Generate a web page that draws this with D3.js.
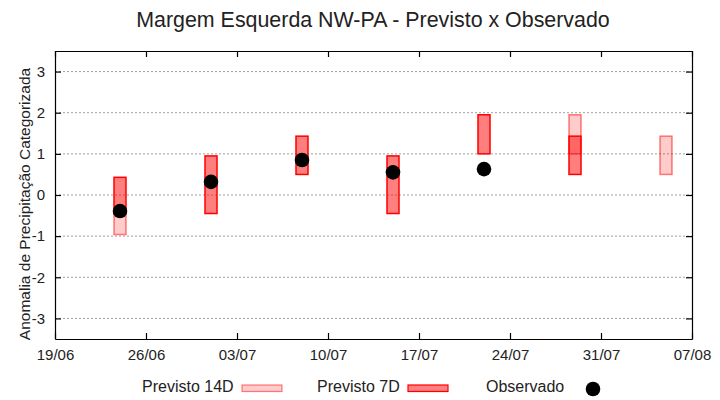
<!DOCTYPE html>
<html>
<head>
<meta charset="utf-8">
<script src="https://cdn.jsdelivr.net/npm/d3@7"></script>
<style>
  body { margin: 0; background: #fff; }
  text { font-family: "Liberation Sans", Arial, sans-serif; fill: #222; }
</style>
</head>
<body>
<script>
// dados
var datas = ["24/06", "01/07", "08/07", "15/07", "22/07", "29/07", "05/08"];
var prev7Min = [-0.45, -0.45, 0.5, -0.45, 1.0, 0.5, null];
var prev7Max = [0.43, 0.95, 1.43, 0.95, 1.95, 1.43, null];
var prev14Min = [-0.96, null, null, null, null, 1.0, 0.5];
var prev14Max = [-0.45, null, null, null, null, 1.95, 1.43];
var observado = [-0.39, 0.32, 0.85, 0.55, 0.63, null, null];
var yTicks = [-3, -2, -1, 0, 1, 2, 3];
var xTicks = ["19/06", "26/06", "03/07", "10/07", "17/07", "24/07", "31/07", "07/08"];

var width = 720, height = 400;
var margin = {top: 51, right: 28, bottom: 61, left: 55};

var parse = function(s) {
  var p = s.split("/");
  return new Date(Date.UTC(2021, +p[1] - 1, +p[0]));
};
var dia = 24 * 3600 * 1000;

var x = d3.scaleUtc()
    .domain([parse(xTicks[0]), parse(xTicks[xTicks.length - 1])])
    .range([margin.left, width - margin.right]);
var y = d3.scaleLinear()
    .domain([-3.5, 3.5])
    .range([height - margin.bottom, margin.top]);

var svg = d3.select("body").append("svg")
    .attr("width", width)
    .attr("height", height);

svg.append("text")
    .attr("x", 373).attr("y", 27)
    .attr("text-anchor", "middle")
    .style("font-size", "21.4px")
    .text("Margem Esquerda NW-PA - Previsto x Observado");

// grade
svg.append("g").selectAll("line")
    .data(yTicks)
  .enter().append("line")
    .attr("x1", margin.left).attr("x2", width - margin.right)
    .attr("y1", function(d) { return y(d); })
    .attr("y2", function(d) { return y(d); })
    .attr("stroke", "#a0a0a0")
    .attr("stroke-dasharray", "2,2");

var xTickVals = xTicks.map(parse);
var fmt = d3.utcFormat("%d/%m");

var rows = datas.map(function(d, i) {
  return {d: parse(d), a7: prev7Min[i], b7: prev7Max[i], a14: prev14Min[i], b14: prev14Max[i], o: observado[i]};
});

var barW = function(d) { return x(new Date(d.getTime() + dia / 2)) - x(new Date(d.getTime() - dia / 2)); };

// previsto 14D
svg.append("g").selectAll("rect")
    .data(rows.filter(function(r) { return r.a14 != null; }))
  .enter().append("rect")
    .attr("x", function(r) { return x(new Date(r.d.getTime() - dia / 2)) + 0.5; })
    .attr("width", function(r) { return barW(r.d) - 1; })
    .attr("y", function(r) { return y(r.b14); })
    .attr("height", function(r) { return y(r.a14) - y(r.b14); })
    .attr("fill", "rgba(255,0,0,0.2)")
    .attr("stroke", "rgba(255,0,0,0.5)")
    .attr("stroke-width", 1.5);

// previsto 7D
svg.append("g").selectAll("rect")
    .data(rows.filter(function(r) { return r.a7 != null; }))
  .enter().append("rect")
    .attr("x", function(r) { return x(new Date(r.d.getTime() - dia / 2)) + 0.5; })
    .attr("width", function(r) { return barW(r.d) - 1; })
    .attr("y", function(r) { return y(r.b7); })
    .attr("height", function(r) { return y(r.a7) - y(r.b7); })
    .attr("fill", "rgba(255,0,0,0.5)")
    .attr("stroke", "#ff0000")
    .attr("stroke-width", 1.5);

// observado
svg.append("g").selectAll("circle")
    .data(rows.filter(function(r) { return r.o != null; }))
  .enter().append("circle")
    .attr("cx", function(r) { return x(r.d); })
    .attr("cy", function(r) { return y(r.o); })
    .attr("r", 7.3)
    .attr("fill", "#000");

// eixos
var axB = svg.append("g")
    .attr("transform", "translate(0," + (height - margin.bottom) + ")")
    .call(d3.axisBottom(x).tickValues(xTickVals).tickFormat(fmt).tickSizeInner(-6).tickSizeOuter(0).tickPadding(10));
var axT = svg.append("g")
    .attr("transform", "translate(0," + margin.top + ")")
    .call(d3.axisTop(x).tickValues(xTickVals).tickFormat("").tickSizeInner(-6).tickSizeOuter(0));
var axL = svg.append("g")
    .attr("transform", "translate(" + margin.left + ",0)")
    .call(d3.axisLeft(y).tickValues(yTicks).tickFormat(function(d) { return String(d); })
      .tickSizeInner(-6).tickSizeOuter(0).tickPadding(10));
var axR = svg.append("g")
    .attr("transform", "translate(" + (width - margin.right) + ",0)")
    .call(d3.axisRight(y).tickValues(yTicks).tickFormat("").tickSizeInner(-6).tickSizeOuter(0));

[axB, axT, axL, axR].forEach(function(a) {
  a.selectAll(".domain").attr("stroke", "#000").attr("stroke-width", 1.2);
  a.selectAll(".tick line").attr("stroke", "#000").attr("stroke-width", 1.2);
  a.selectAll("text").style("font-size", "15px").attr("fill", "#222")
    .style("font-family", "Liberation Sans, Arial, sans-serif");
});

svg.append("text")
    .attr("transform", "translate(30,204) rotate(-90)")
    .attr("text-anchor", "middle")
    .style("font-size", "15.5px")
    .text("Anomalia de Precipitação Categorizada");

// legenda
var leg = svg.append("g").style("font-size", "16px");
leg.append("text").attr("x", 142).attr("y", 392).text("Previsto 14D");
leg.append("rect").attr("x", 242).attr("y", 385).attr("width", 40).attr("height", 6.5)
    .attr("fill", "rgba(255,0,0,0.2)").attr("stroke", "rgba(255,0,0,0.5)").attr("stroke-width", 1.2);
leg.append("text").attr("x", 317).attr("y", 392).text("Previsto 7D");
leg.append("rect").attr("x", 408).attr("y", 385).attr("width", 40).attr("height", 6.5)
    .attr("fill", "rgba(255,0,0,0.5)").attr("stroke", "#ff0000").attr("stroke-width", 1.2);
leg.append("text").attr("x", 486).attr("y", 392).text("Observado");
leg.append("circle").attr("cx", 593).attr("cy", 389).attr("r", 7.3).attr("fill", "#000");
</script>
</body>
</html>
